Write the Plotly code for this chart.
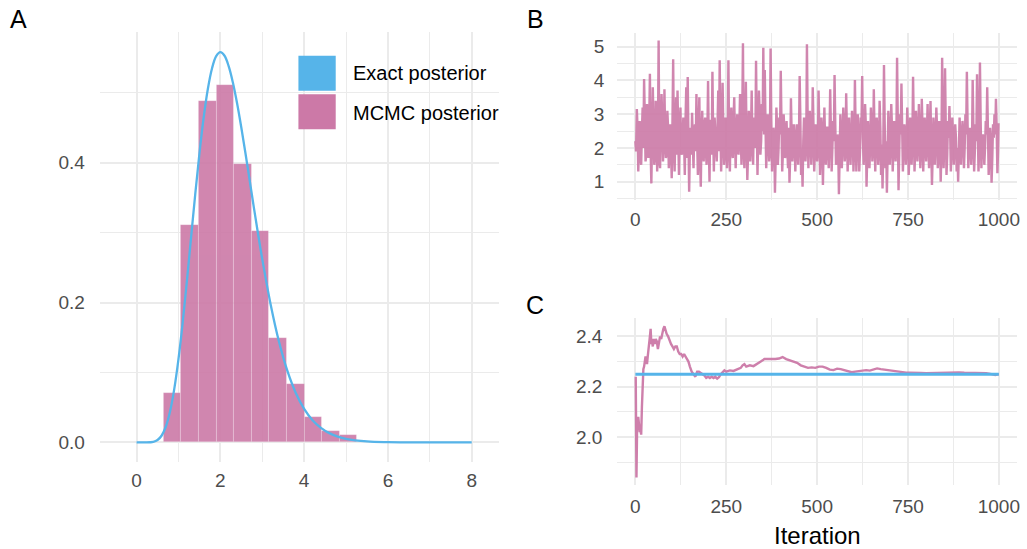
import plotly.graph_objects as go

# ---------------- data ----------------
# Panel A: histogram of MCMC draws (density scale)
hist_left = [0.643, 1.063, 1.483, 1.903, 2.323, 2.743, 3.163, 3.583, 4.003, 4.423, 4.843]
hist_width = 0.42
hist_density = [0.071, 0.311, 0.488, 0.511, 0.398, 0.302, 0.150, 0.083, 0.036, 0.016, 0.011]

# Panel A: exact posterior density curve
post_x = [0.0, 0.2, 0.4, 0.5, 0.6, 0.7, 0.8, 0.9, 1.0, 1.1, 1.2, 1.3, 1.4, 1.5, 1.6, 1.7, 1.8, 1.9,
          2.0, 2.1, 2.2, 2.3, 2.4, 2.5, 2.6, 2.7, 2.8, 2.9, 3.0, 3.2, 3.4, 3.6, 3.8, 4.0, 4.2, 4.4,
          4.6, 4.8, 5.0, 5.5, 6.0, 7.0, 8.0]
post_d = [0.0, 0.00001, 0.0009, 0.0034, 0.0099, 0.0228, 0.0445, 0.0765, 0.1191, 0.1711, 0.2301,
          0.2926, 0.3548, 0.4131, 0.4640, 0.5052, 0.5349, 0.5526, 0.5583, 0.5530, 0.5378, 0.5144,
          0.4847, 0.4504, 0.4132, 0.3746, 0.3359, 0.2981, 0.2621, 0.1974, 0.1440, 0.1022, 0.0708,
          0.0480, 0.0318, 0.0208, 0.0133, 0.0084, 0.0052, 0.0015, 0.0004, 0.00002, 0.0]

# Panel B: trace of the chain
# draws at iterations 0, 4, 8, ..., 996
trace_iter_a = list(range(0, 1000, 4))
trace_value_a = [
    2.2, 3.15, 1.3, 2.8, 1.5, 3.2, 4.04, 1.6, 3.3, 1.7,
    4.2, 0.95, 3.8, 1.5, 3.4, 1.3, 5.18, 1.4, 3.6, 1.6,
    3.74, 1.7, 3.1, 1.4, 2.7, 1.1, 4.63, 1.3, 3.5, 3.7,
    1.2, 3.2, 1.8, 2.9, 1.2, 3.8, 4.1, 0.7, 2.6, 3.04,
    1.4, 2.7, 3.6, 1.2, 3.5, 0.85, 3.1, 1.6, 2.9, 1.5,
    3.98, 1.0, 2.8, 4.26, 1.3, 2.6, 1.6, 3.7, 4.6, 1.3,
    3.93, 1.5, 2.9, 1.4, 4.6, 1.3, 3.2, 1.7, 3.5, 1.4,
    3.0, 1.8, 3.6, 1.5, 5.1, 1.4, 3.96, 1.05, 3.1, 1.6,
    3.7, 1.5, 2.8, 4.58, 1.2, 3.7, 1.8, 3.3, 4.97, 4.31,
    1.4, 3.0, 1.6, 4.95, 1.3, 2.6, 0.67, 3.2, 1.5, 2.9,
    4.29, 1.3, 3.0, 1.7, 2.8, 1.4, 0.97, 3.47, 1.6, 2.7,
    1.3, 2.7, 1.5, 4.13, 1.2, 0.85, 2.9, 1.6, 5.07, 1.4,
    3.1, 1.5, 3.8, 1.3, 2.7, 1.6, 3.7, 1.2, 2.9, 0.9,
    3.2, 1.5, 2.6, 1.4, 3.74, 1.3, 2.8, 4.16, 1.5, 2.4,
    0.63, 3.0, 1.4, 3.2, 1.6, 3.62, 1.3, 2.9, 1.5, 3.1,
    1.3, 4.01, 1.3, 3.0, 1.3, 2.9, 4.13, 1.5, 3.3, 0.85,
    2.8, 1.4, 3.2, 1.6, 3.74, 1.3, 2.9, 1.5, 3.4, 1.2,
    0.8, 4.46, 1.4, 0.67, 3.1, 1.5, 3.3, 1.3, 2.8, 1.6,
    4.67, 0.75, 3.0, 3.91, 1.3, 2.7, 1.5, 3.2, 1.2, 2.9,
    1.5, 4.11, 1.3, 3.1, 1.6, 3.3, 1.4, 3.46, 1.3, 2.9,
    1.6, 3.3, 1.4, 3.39, 0.9, 2.9, 1.5, 3.2, 1.4, 2.8,
    1.0, 4.67, 1.4, 4.36, 1.2, 2.8, 3.24, 1.3, 2.9, 1.5,
    2.7, 1.3, 1.0, 2.9, 1.5, 2.8, 1.4, 3.0, 4.26, 1.4,
    2.6, 1.5, 4.01, 1.3, 2.7, 4.18, 1.3, 4.53, 1.4, 2.4,
    1.5, 2.8, 3.8, 1.2, 2.6, 0.97, 2.7, 3.0, 3.46, 1.25]
# draws at iterations 2, 6, 10, ..., 998
trace_iter_b = list(range(2, 1000, 4))
trace_value_b = [
    1.9, 2.6, 2.1, 1.7, 2.5, 2.0, 2.9, 1.8, 2.4, 2.7,
    1.9, 2.3, 2.6, 1.7, 2.8, 2.2, 1.6, 2.5, 2.9, 2.1,
    2.4, 1.8, 2.6, 2.2, 1.9, 2.7, 2.0, 2.5, 1.8, 2.3,
    2.6, 1.9, 2.4, 2.2, 2.8, 1.7, 2.3, 2.0, 1.8, 2.2,
    2.5, 1.9, 2.2, 2.6, 1.7, 2.4, 2.0, 2.7, 1.9, 2.3,
    2.1, 2.8, 1.8, 2.4, 2.9, 2.0, 2.3, 1.9, 2.6, 2.2,
    2.5, 1.8, 2.7, 2.3, 2.0, 2.6, 1.9, 2.8, 2.2, 2.4,
    2.0, 2.6, 2.3, 2.9, 1.9, 2.5, 2.2, 1.8, 2.7, 2.4,
    2.1, 2.9, 2.0, 2.6, 2.3, 3.0, 2.2, 2.5, 2.4, 2.7,
    2.2, 2.5, 1.9, 2.8, 2.1, 2.3, 1.7, 2.6, 2.0, 2.4,
    2.7, 1.9, 2.5, 2.2, 2.0, 2.6, 1.8, 2.4, 2.1, 2.3,
    1.9, 2.5, 2.2, 2.8, 1.8, 2.2, 2.4, 2.0, 2.9, 2.2,
    2.5, 2.1, 2.7, 1.9, 2.3, 2.0, 2.6, 1.8, 2.4, 2.1,
    2.2, 2.6, 1.9, 2.3, 2.5, 2.0, 2.2, 2.7, 1.9, 2.1,
    1.8, 2.4, 2.1, 2.6, 1.9, 2.5, 2.2, 2.0, 2.3, 2.4,
    2.0, 2.5, 2.1, 2.4, 1.9, 2.6, 2.3, 2.0, 2.7, 1.8,
    2.3, 2.1, 2.6, 2.0, 2.4, 2.2, 2.5, 1.9, 2.6, 2.1,
    1.9, 2.7, 2.2, 1.8, 2.5, 2.1, 2.6, 2.0, 2.3, 2.2,
    2.8, 1.9, 2.4, 2.6, 2.0, 2.3, 2.1, 2.5, 1.8, 2.4,
    2.2, 2.6, 2.0, 2.5, 2.2, 2.4, 1.9, 2.6, 2.1, 2.3,
    2.4, 2.1, 2.5, 2.0, 1.8, 2.4, 2.2, 2.6, 1.9, 2.3,
    1.9, 2.7, 2.2, 2.6, 1.8, 2.3, 2.5, 2.0, 2.4, 2.1,
    2.3, 2.0, 1.9, 2.4, 2.1, 2.5, 2.0, 2.4, 2.7, 2.0,
    2.3, 2.0, 2.6, 1.9, 2.2, 2.7, 2.0, 2.8, 2.1, 2.2,
    2.0, 2.4, 2.5, 1.8, 2.2, 1.7, 2.3, 2.4, 2.6, 2.0]
trace_iter_last = [999]
trace_value_last = [2.73]

# Panel C: running mean of the chain, and the exact posterior mean
rm_iter = [1, 2, 3, 4, 5, 6, 8, 10, 12, 14, 16, 18, 20, 22, 24, 26, 28, 30, 32, 34, 36, 38, 40,
           42, 44, 46, 48, 50, 53, 56, 59, 62, 65, 68, 71, 74, 77, 80, 83, 86, 90, 94, 98, 102,
           106, 110, 114, 118, 122, 126, 130, 134, 138, 142, 146, 150, 155, 160, 165, 170, 175,
           180, 185, 190, 195, 200, 205, 210, 215, 220, 225, 230, 235, 240, 245, 250, 260, 270,
           280, 290, 295, 300, 305, 315, 325, 335, 345, 355, 365, 375, 385, 395, 405, 415, 425,
           435, 445, 455, 465, 475, 485, 495, 505, 515, 525, 535, 545, 555, 565, 575, 585, 595,
           605, 615, 625, 635, 645, 655, 665, 675, 685, 695, 705, 715, 725, 735, 745, 755, 770,
           785, 800, 815, 830, 845, 860, 875, 890, 905, 920, 935, 950, 965, 980, 990, 1000]
rm_value = [2.24, 1.90, 1.84, 1.95, 2.07, 2.05, 2.08, 2.04, 2.02, 2.03, 2.01, 2.12, 2.26, 2.27,
            2.28, 2.30, 2.32, 2.31, 2.29, 2.32, 2.36, 2.38, 2.40, 2.43, 2.37, 2.38, 2.36, 2.39,
            2.37, 2.39, 2.38, 2.35, 2.38, 2.40, 2.39, 2.42, 2.43, 2.44, 2.42, 2.41, 2.40, 2.38,
            2.37, 2.36, 2.35, 2.36, 2.36, 2.34, 2.33, 2.33, 2.32, 2.33, 2.32, 2.31, 2.30, 2.28,
            2.26, 2.25, 2.24, 2.26, 2.26, 2.255, 2.25, 2.245, 2.235, 2.24, 2.235, 2.24, 2.235,
            2.24, 2.232, 2.238, 2.25, 2.26, 2.265, 2.26, 2.265, 2.263, 2.27, 2.275, 2.285, 2.29,
            2.28, 2.285, 2.282, 2.29, 2.30, 2.31, 2.31, 2.308, 2.31, 2.312, 2.318, 2.31, 2.305,
            2.30, 2.295, 2.285, 2.28, 2.275, 2.277, 2.275, 2.28, 2.28, 2.275, 2.268, 2.266,
            2.272, 2.27, 2.265, 2.262, 2.258, 2.26, 2.262, 2.264, 2.266, 2.264, 2.268, 2.273,
            2.27, 2.268, 2.266, 2.263, 2.262, 2.26, 2.258, 2.256, 2.256, 2.254, 2.255, 2.254,
            2.255, 2.256, 2.256, 2.258, 2.258, 2.257, 2.256, 2.256, 2.255, 2.254, 2.254, 2.25,
            2.247, 2.25]
exact_mean = 2.25
exact_mean_iter = [0, 1000]

legend_labels = ["Exact posterior", "MCMC posterior"]

# merge the chain draws in iteration order
_pairs = sorted(zip(trace_iter_a + trace_iter_b + trace_iter_last,
                    trace_value_a + trace_value_b + trace_value_last))
trace_iter = [p[0] for p in _pairs]
trace_value = [p[1] for p in _pairs]

# ---------------- styling ----------------
W, H = 1027, 549
BLUE = "#56B4E9"
PINK = "#CC79A7"
GRID = "#EBEBEB"
TICK = "#4D4D4D"
FONT = "Liberation Sans, Arial, Helvetica, sans-serif"


def px_x(p):
    return p / W


def px_y(p):
    return 1 - p / H


fig = go.Figure()

# Panel A
fig.add_trace(go.Bar(
    x=[l + hist_width / 2 for l in hist_left], y=hist_density, width=hist_width,
    marker=dict(color=PINK, line=dict(width=0.6, color="rgba(255,255,255,0.35)")),
    opacity=0.9, xaxis="x", yaxis="y", showlegend=False, hoverinfo="skip"))
fig.add_trace(go.Scatter(
    x=post_x, y=post_d, mode="lines", line=dict(color=BLUE, width=2.3, shape="spline"),
    xaxis="x", yaxis="y", showlegend=False))

# Panel B
fig.add_trace(go.Scatter(
    x=trace_iter, y=trace_value, mode="lines", line=dict(color=PINK, width=2.4),
    opacity=0.9, xaxis="x2", yaxis="y2", showlegend=False))

# Panel C
fig.add_trace(go.Scatter(
    x=rm_iter, y=rm_value, mode="lines", line=dict(color=PINK, width=2.4),
    opacity=0.95, xaxis="x3", yaxis="y3", showlegend=False))
fig.add_trace(go.Scatter(
    x=exact_mean_iter, y=[exact_mean] * len(exact_mean_iter), mode="lines",
    line=dict(color=BLUE, width=3), xaxis="x3", yaxis="y3", showlegend=False))


def axis(domain, rng, dtick, minor, anchor, tick0=0, ticklen=8, fmt=None):
    d = dict(domain=domain, range=rng, dtick=dtick, tick0=tick0, anchor=anchor,
             showgrid=True, gridcolor=GRID, gridwidth=1.6, zeroline=False, showline=False,
             ticks="outside", ticklen=ticklen, tickcolor="rgba(0,0,0,0)",
             tickfont=dict(family=FONT, size=19, color=TICK),
             minor=dict(dtick=minor, tick0=tick0, showgrid=True, gridcolor=GRID, gridwidth=0.8,
                        ticks=""))
    if fmt:
        d["tickformat"] = fmt
    return d


xA = [px_x(100), px_x(500)]
yA = [px_y(462), px_y(32)]
xB = [px_x(619), px_x(1020)]
yB = [px_y(200), px_y(33)]
yC = [px_y(485), px_y(318)]

fig.update_layout(
    width=W, height=H, margin=dict(l=0, r=0, t=0, b=0),
    paper_bgcolor="white", plot_bgcolor="white", bargap=0,
    font=dict(family=FONT),
    xaxis=axis(xA, [-0.88, 8.64], 2, 1, "y", ticklen=1),
    yaxis=axis(yA, [-0.028, 0.587], 0.2, 0.1, "x", ticklen=10, fmt=".1f"),
    xaxis2=axis(xB, [-50, 1050], 250, 125, "y2", ticklen=2),
    yaxis2=axis(yB, [0.458, 5.406], 1, 0.5, "x2", ticklen=8),
    xaxis3=axis(xB, [-50, 1050], 250, 125, "y3", ticklen=4),
    yaxis3=axis(yC, [1.81, 2.473], 0.2, 0.1, "x3", tick0=2.0, ticklen=10, fmt=".1f"),
)

# Legend (drawn as keys + labels)
fig.add_shape(type="rect", xref="paper", yref="paper",
              x0=px_x(299.3), x1=px_x(336.7), y0=px_y(90.7), y1=px_y(55.7),
              fillcolor=BLUE, line=dict(width=0))
fig.add_shape(type="rect", xref="paper", yref="paper",
              x0=px_x(299.3), x1=px_x(336.7), y0=px_y(129.3), y1=px_y(94.3),
              fillcolor=PINK, line=dict(width=0))
for lab, yc in zip(legend_labels, [73.3, 112.7]):
    fig.add_annotation(text=lab, xref="paper", yref="paper", x=px_x(352), y=px_y(yc),
                       xanchor="left", yanchor="middle", showarrow=False,
                       font=dict(family=FONT, size=20, color="black"))

# Panel tags
for tag, xl, yc in [("A", 8, 19), ("B", 527, 19), ("C", 526, 305)]:
    fig.add_annotation(text=tag, xref="paper", yref="paper", x=px_x(xl), y=px_y(yc),
                       xanchor="left", yanchor="middle", showarrow=False,
                       font=dict(family=FONT, size=25, color="black"))

# x-axis title of panel C
fig.add_annotation(text="Iteration", xref="paper", yref="paper", x=px_x(820), y=px_y(535),
                   xanchor="center", yanchor="middle", showarrow=False,
                   font=dict(family=FONT, size=24, color="black"))

fig.write_html("out.html")
